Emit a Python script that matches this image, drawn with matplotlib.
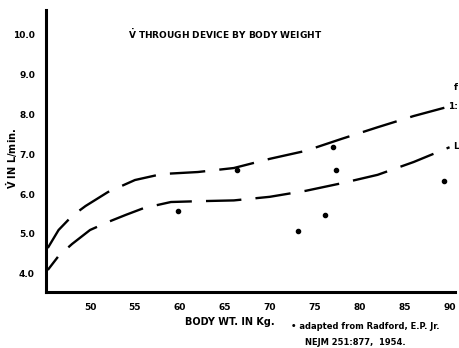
import numpy as np
import matplotlib.pyplot as plt

# values
upperX = [45.3, 46.5, 48, 49.5, 52, 55, 58, 62, 66, 70, 74, 78, 82, 86, 89.8]
upperY = [4.65, 5.1, 5.45, 5.7, 6.05, 6.35, 6.5, 6.55, 6.65, 6.88, 7.08, 7.38, 7.67, 7.95, 8.18]

lowerX = [45.3, 46.5, 48, 50, 52, 54, 56, 59, 62, 66, 70, 74, 78, 82, 86, 90]
lowerY = [4.1, 4.45, 4.75, 5.1, 5.3, 5.48, 5.65, 5.8, 5.82, 5.84, 5.93, 6.08, 6.27, 6.48, 6.8, 7.17]

# measured points (Radford)
ptsX = [59.8, 66.4, 73.1, 76.1, 77.0, 77.4, 89.4]
ptsY = [5.57, 6.6, 5.08, 5.48, 7.18, 6.6, 6.33]

xticks = [50, 55, 60, 65, 70, 75, 80, 85, 90]
yticks = [4.0, 5.0, 6.0, 7.0, 8.0, 9.0, 10.0]

fnt = 'Liberation Sans Narrow'
vdot = r'$\mathbf{\dot{V}}$'

fig = plt.figure(figsize=(4.6, 3.48), dpi=100)
ax = fig.add_axes([0.1, 0.161, 0.889, 0.81])

ax.plot(upperX, upperY, color='k', lw=1.7, linestyle=(0, (15, 6)))
ax.plot(lowerX, lowerY, color='k', lw=1.7, linestyle=(8, (15, 6)))
ax.plot(ptsX, ptsY, 'ko', ms=3)

ax.set_xlim(45.1, 90.6)
ax.set_ylim(3.55, 10.6)
ax.set_xticks(xticks)
ax.set_yticks(yticks)
ax.set_xticklabels([str(t) for t in xticks], fontfamily=fnt, fontweight='bold', fontsize=6.5)
ax.set_yticklabels(['%.1f' % t for t in yticks], fontfamily=fnt, fontweight='bold', fontsize=6.5)
ax.tick_params(length=0, pad=8)
for s in ['top', 'right']:
    ax.spines[s].set_visible(False)
for s in ['left', 'bottom']:
    ax.spines[s].set_linewidth(2.2)

ax.text(0.437, 0.915, vdot + ' THROUGH DEVICE BY BODY WEIGHT', transform=ax.transAxes,
        ha='center', va='center', fontfamily=fnt, fontweight='bold', fontsize=6.5)

fig.text(0.5, 0.075, 'BODY WT. IN Kg.', ha='center', va='center',
         fontfamily=fnt, fontweight='bold', fontsize=7)
fig.text(0.026, 0.545, vdot + ' IN L/min.', ha='center', va='center', rotation=90,
         fontfamily=fnt, fontweight='bold', fontsize=7)

fig.text(0.633, 0.063, '\u2022 adapted from Radford, E.P. Jr.', ha='left', va='center',
         fontfamily=fnt, fontweight='bold', fontsize=6)
fig.text(0.663, 0.017, 'NEJM 251:877,  1954.', ha='left', va='center',
         fontfamily=fnt, fontweight='bold', fontsize=6)

# labels at the right edge of the original scan (mostly cut off there)
fig.text(0.986, 0.748, 'f', ha='left', va='center', fontfamily=fnt, fontweight='bold', fontsize=6.5)
fig.text(0.975, 0.693, '1:', ha='left', va='center', fontfamily=fnt, fontweight='bold', fontsize=6.5)
fig.text(0.984, 0.578, 'L', ha='left', va='center', fontfamily=fnt, fontweight='bold', fontsize=6.5)

fig.savefig('out.png', dpi=100)
